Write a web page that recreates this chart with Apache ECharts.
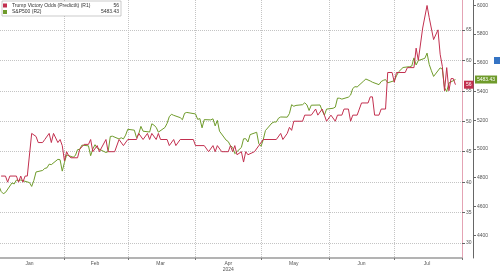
<!DOCTYPE html>
<html><head><meta charset="utf-8">
<script src="https://cdn.jsdelivr.net/npm/echarts@6/dist/echarts.min.js"></script>
<style>html,body{margin:0;padding:0;background:#fff}#c{width:500px;height:273px}</style>
</head><body><div id="c"></div>
<script>
const oddsDates = ['2024-01-03','2024-01-05','2024-01-06','2024-01-07','2024-01-10','2024-01-11','2024-01-12','2024-01-13','2024-01-14','2024-01-15','2024-01-17','2024-01-19','2024-01-20','2024-01-22','2024-01-23','2024-01-25','2024-01-26','2024-01-27','2024-01-29','2024-01-30','2024-01-31',
'2024-02-01','2024-02-02','2024-02-03','2024-02-04','2024-02-07','2024-02-08','2024-02-10','2024-02-12','2024-02-13','2024-02-14','2024-02-16','2024-02-17','2024-02-20','2024-02-21','2024-02-24','2024-02-26','2024-02-28',
'2024-03-01','2024-03-05','2024-03-06','2024-03-08','2024-03-10','2024-03-11','2024-03-12','2024-03-14','2024-03-15','2024-03-16','2024-03-19','2024-03-20','2024-03-22','2024-03-23','2024-03-25','2024-03-31',
'2024-04-01','2024-04-05','2024-04-07','2024-04-09','2024-04-10','2024-04-11','2024-04-13','2024-04-16','2024-04-17','2024-04-18','2024-04-19','2024-04-20','2024-04-22','2024-04-23','2024-04-24','2024-04-25','2024-04-28','2024-04-30',
'2024-05-02','2024-05-08','2024-05-10','2024-05-11','2024-05-13','2024-05-14','2024-05-15','2024-05-16','2024-05-20','2024-05-21','2024-05-24','2024-05-26','2024-05-27','2024-05-29','2024-05-30','2024-05-31',
'2024-06-02','2024-06-04','2024-06-05','2024-06-07','2024-06-08','2024-06-10','2024-06-11','2024-06-12','2024-06-14','2024-06-15','2024-06-16','2024-06-19','2024-06-20','2024-06-21','2024-06-22','2024-06-24','2024-06-25','2024-06-27','2024-06-28','2024-06-30',
'2024-07-01','2024-07-02','2024-07-06','2024-07-07','2024-07-10','2024-07-11','2024-07-12','2024-07-14','2024-07-16','2024-07-17','2024-07-19','2024-07-21','2024-07-22','2024-07-23','2024-07-24','2024-07-25','2024-07-26','2024-07-27','2024-07-28','2024-07-29'];
const oddsValues = [41,41,40,41,41,40,41,40,41,41,48,47.5,46.5,46.5,47,48,46.5,48,46.5,47,46,
43.5,45,44.3,44,44,45.4,46.2,46.2,47,45,46,45,47,45,45,47,46,
47,47,48,47,48,47,48,47,48,47,47,46,47,46,47,47,
46,46,45,46,45,46,45,45,46,45,46,44.5,45,43.3,45,44.5,45,46,
47,47,48,47,48,49,48.5,50,50,51,51,52,51,52,51,50,
51,50,51,51,52,52,50,51,51,52,53,53,54,54,51,51,52,52,58,58,
56.4,58,58,58.8,58.8,62,60,65.3,69,67,63.4,65,61,59,55,58.8,55,57,57,56];

const spxDates = ['2024-01-02','2024-01-03','2024-01-04','2024-01-05','2024-01-08','2024-01-09','2024-01-10','2024-01-11','2024-01-12','2024-01-16','2024-01-17','2024-01-18','2024-01-19','2024-01-22','2024-01-23','2024-01-24','2024-01-25','2024-01-26','2024-01-29','2024-01-30','2024-01-31',
'2024-02-01','2024-02-02','2024-02-05','2024-02-06','2024-02-07','2024-02-08','2024-02-09','2024-02-12','2024-02-13','2024-02-14','2024-02-15','2024-02-16','2024-02-20','2024-02-21','2024-02-22','2024-02-23','2024-02-26','2024-02-27','2024-02-28','2024-02-29',
'2024-03-01','2024-03-04','2024-03-05','2024-03-06','2024-03-07','2024-03-08','2024-03-11','2024-03-12','2024-03-13','2024-03-14','2024-03-15','2024-03-18','2024-03-19','2024-03-20','2024-03-21','2024-03-22','2024-03-25','2024-03-26','2024-03-27','2024-03-28',
'2024-04-01','2024-04-02','2024-04-03','2024-04-04','2024-04-05','2024-04-08','2024-04-09','2024-04-10','2024-04-11','2024-04-12','2024-04-15','2024-04-16','2024-04-17','2024-04-18','2024-04-19','2024-04-22','2024-04-23','2024-04-24','2024-04-25','2024-04-26','2024-04-29','2024-04-30',
'2024-05-01','2024-05-02','2024-05-03','2024-05-06','2024-05-07','2024-05-08','2024-05-09','2024-05-10','2024-05-13','2024-05-14','2024-05-15','2024-05-16','2024-05-17','2024-05-20','2024-05-21','2024-05-22','2024-05-23','2024-05-24','2024-05-28','2024-05-29','2024-05-30','2024-05-31',
'2024-06-03','2024-06-04','2024-06-05','2024-06-06','2024-06-07','2024-06-10','2024-06-11','2024-06-12','2024-06-13','2024-06-14','2024-06-17','2024-06-18','2024-06-20','2024-06-21','2024-06-24','2024-06-25','2024-06-26','2024-06-27','2024-06-28',
'2024-07-01','2024-07-02','2024-07-03','2024-07-05','2024-07-08','2024-07-09','2024-07-10','2024-07-11','2024-07-12','2024-07-15','2024-07-16','2024-07-17','2024-07-18','2024-07-19','2024-07-22','2024-07-23','2024-07-24','2024-07-25','2024-07-26','2024-07-29'];
const spxValues = [4742.83,4704.81,4688.68,4697.24,4763.54,4756.50,4783.45,4780.24,4783.83,4765.98,4739.21,4780.94,4839.81,4850.43,4864.60,4868.55,4894.16,4890.97,4927.93,4924.97,4845.65,
4906.19,4958.61,4942.81,4954.23,4995.06,4997.91,5026.61,5021.84,4953.17,5000.62,5029.73,5005.57,4975.51,4981.80,5087.03,5088.80,5069.53,5078.18,5069.76,5096.27,
5137.08,5130.95,5078.65,5104.76,5157.36,5123.69,5117.94,5175.27,5165.31,5150.48,5117.09,5149.42,5178.51,5224.62,5241.53,5234.18,5218.19,5203.58,5248.49,5254.35,
5243.77,5205.81,5211.49,5147.21,5204.34,5202.39,5209.91,5160.64,5199.06,5123.41,5061.82,5051.41,5022.21,5011.12,4967.23,5010.60,5070.55,5071.63,5048.42,5099.96,5116.17,5035.69,
5018.39,5064.20,5127.79,5180.74,5187.70,5187.67,5214.08,5222.68,5221.42,5246.68,5308.15,5297.10,5303.27,5308.13,5321.41,5307.01,5267.84,5304.72,5306.04,5266.95,5235.48,5277.51,
5283.40,5291.34,5354.03,5352.96,5346.99,5360.79,5375.32,5421.03,5433.74,5431.60,5473.23,5487.03,5473.17,5464.62,5447.87,5469.30,5477.90,5482.87,5460.48,
5475.09,5509.01,5537.02,5567.19,5572.85,5576.98,5633.91,5584.54,5615.35,5631.22,5667.20,5588.27,5544.59,5505.00,5564.41,5555.74,5427.13,5399.22,5459.10,5483.43];

const monthStarts = ['2024-02-01','2024-03-01','2024-04-01','2024-05-01','2024-06-01','2024-07-01','2024-08-01'];
const monthLabelDates = ['2024-01-16','2024-02-15','2024-03-16','2024-04-16','2024-05-16','2024-06-16','2024-07-16'];
const monthNames = ['Jan','Feb','Mar','Apr','May','Jun','Jul','Aug','Sep','Oct','Nov','Dec'];
const oddsTicks = [30,35,40,45,50,55,60,65];
const spxTicks = [4400,4600,4800,5000,5200,5400,5600,5800,6000];
const legendNames = ['Trump Victory Odds (PredictIt) (R1)','S&P500 (R2)'];

const RED = '#c2304f', GREEN = '#6f9b2b', FONT = 'Liberation Sans';
const ts = (s, h) => { const p = s.split('-').map(Number); return new Date(p[0], p[1] - 1, p[2], h || 0).getTime(); };
const zip = (d, v) => d.map((x, i) => [ts(x), v[i]]);
const lastOdds = oddsValues[oddsValues.length - 1];
const lastSpx = spxValues[spxValues.length - 1];

const tagLine = {color: 'rgba(0,0,0,0)', width: 0, opacity: 1};

const chart = echarts.init(document.getElementById('c'), null, {renderer: 'canvas'});
chart.setOption({
  animation: false,
  textStyle: {fontFamily: FONT},
  grid: {left: 0, right: 38, top: 0, bottom: 14},
  legend: {
    data: legendNames, left: 2, top: 1, orient: 'vertical', icon: 'rect',
    itemWidth: 4, itemHeight: 4, itemGap: 1.5, padding: [2, 2, 1.5, 1],
    borderColor: '#aaa', borderWidth: 0.6, backgroundColor: '#fff',
    textStyle: {fontSize: 5, color: '#333', fontFamily: FONT,
      rich: {n: {width: 86, fontSize: 5, lineHeight: 6, color: '#333', fontFamily: FONT},
             v: {width: 21, align: 'right', fontSize: 5, lineHeight: 6, color: '#333', fontFamily: FONT}}},
    formatter: name => `{n|${name}}{v|${name === legendNames[0] ? lastOdds : lastSpx}}`
  },
  xAxis: {
    type: 'value', min: ts('2024-01-02', 12), max: ts('2024-08-01'),
    axisLine: {lineStyle: {color: '#9a9a9a', width: 1.5}},
    axisTick: {show: true, customValues: monthStarts.map(s => ts(s)), length: 2, lineStyle: {color: '#777'}},
    splitLine: {show: true, lineStyle: {type: 'dotted', color: '#c4c4c4', width: 1}},
    axisLabel: {customValues: monthLabelDates.map(s => ts(s)), fontSize: 5, color: '#555', margin: 3, lineHeight: 6, fontFamily: FONT,
      formatter: v => { const m = new Date(v).getMonth(); return m === 3 ? monthNames[m] + '\n2024' : monthNames[m]; }}
  },
  yAxis: [{
    type: 'value', position: 'right', min: 27.55, max: 69.9,
    axisLine: {show: true, lineStyle: {color: '#e4a3b4', width: 1}},
    axisTick: {show: true, customValues: oddsTicks, length: 3, lineStyle: {color: '#666'}},
    axisLabel: {customValues: oddsTicks, fontSize: 5, margin: 4, color: '#555', fontFamily: FONT, formatter: v => String(v)},
    splitLine: {show: true, lineStyle: {type: 'dotted', color: '#c4c4c4', width: 1}}
  }, {
    type: 'value', position: 'right', offset: 11, min: 4241, max: 6037,
    axisLine: {show: true, lineStyle: {color: '#666', width: 1}},
    axisTick: {show: true, customValues: spxTicks, length: 3, lineStyle: {color: '#666'}},
    axisLabel: {customValues: spxTicks, fontSize: 5, margin: 4, color: '#555', fontFamily: FONT, formatter: v => String(v)},
    splitLine: {show: false}
  }],
  series: [{
    name: legendNames[1], type: 'line', yAxisIndex: 1, data: zip(spxDates, spxValues),
    symbol: 'none', lineStyle: {color: GREEN, width: 1}, itemStyle: {color: GREEN}, z: 2,
    markLine: {silent: true, symbol: 'none', lineStyle: tagLine, data: [{yAxis: lastSpx}],
      label: {show: true, opacity: 1, position: 'end', distance: 13, formatter: () => lastSpx.toFixed(2), backgroundColor: GREEN, color: '#fff', fontSize: 5, padding: [1.5, 2], fontFamily: FONT}}
  }, {
    name: legendNames[0], type: 'line', yAxisIndex: 0, data: zip(oddsDates, oddsValues),
    symbol: 'none', lineStyle: {color: RED, width: 1}, itemStyle: {color: RED}, z: 3,
    markLine: {silent: true, symbol: 'none', lineStyle: tagLine, data: [{yAxis: lastOdds}],
      label: {show: true, opacity: 1, position: 'end', distance: 2, formatter: () => String(lastOdds), backgroundColor: RED, color: '#fff', fontSize: 5, padding: [1.5, 2], fontFamily: FONT}}
  }],
  graphic: [{type: 'rect', right: 0, top: 57, shape: {width: 6, height: 7}, style: {fill: '#3574c4'}, silent: true}]
});
</script></body></html>
